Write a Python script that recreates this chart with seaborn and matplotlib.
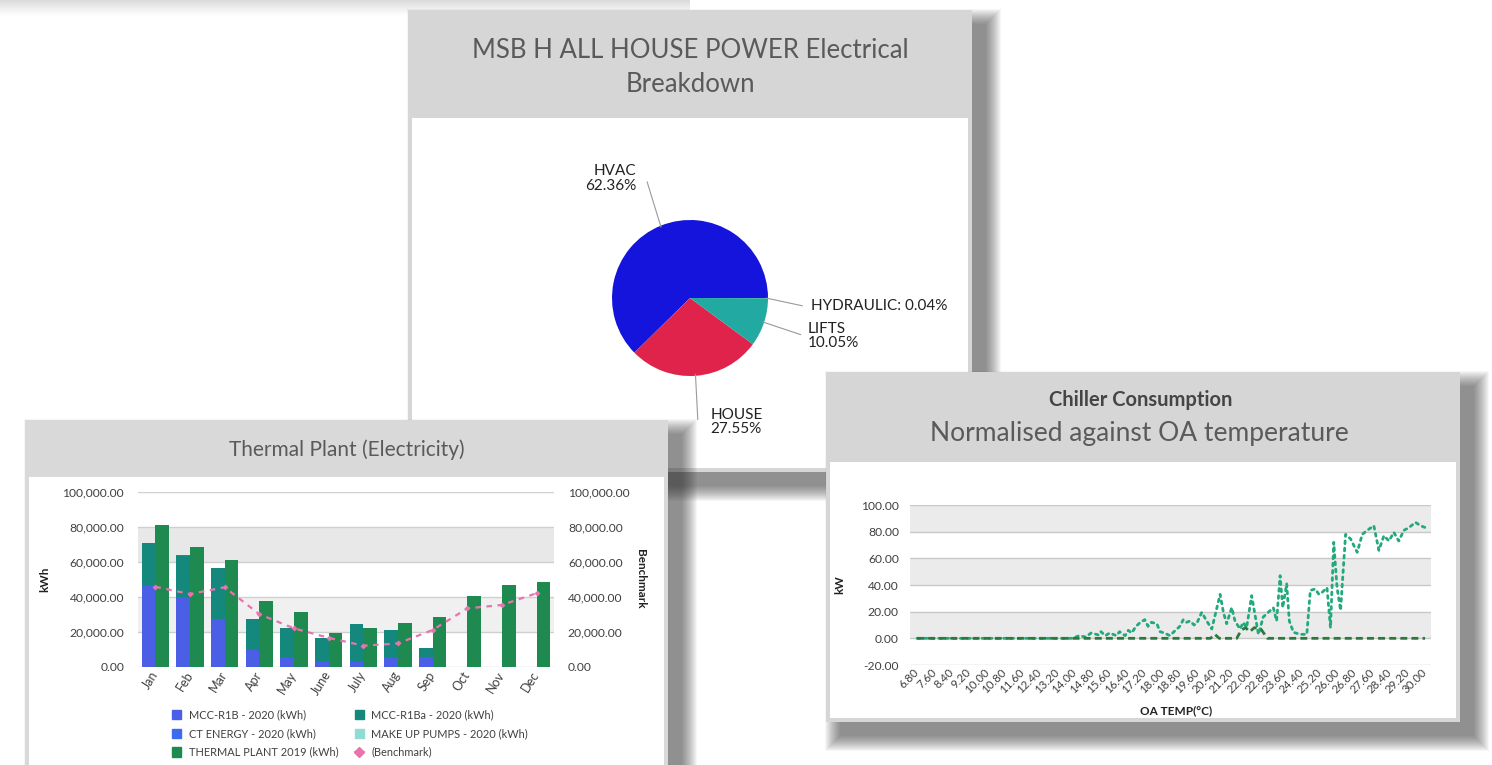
import numpy as np
import pandas as pd
import seaborn as sns
import matplotlib
matplotlib.use("Agg")
from matplotlib import pyplot as plt
from matplotlib.patches import Rectangle, Patch
from matplotlib.lines import Line2D

W, H = 1492, 765

# pie: MSB H ALL HOUSE POWER
pie_labels = ["HVAC", "HOUSE", "LIFTS", "HYDRAULIC"]
pie_values = [62.36, 27.55, 10.05, 0.04]
pie_colors = ["#1414DC", "#E0234A", "#22A9A1", "#4CC08A"]

# thermal plant (kWh)
months = ["Jan", "Feb", "Mar", "Apr", "May", "June", "July", "Aug", "Sep", "Oct", "Nov", "Dec"]
mcc_r1b = [46300, 40000, 27000, 9500, 5100, 2900, 2900, 5100, 5300, np.nan, np.nan, np.nan]
mcc_r1ba = [24300, 23000, 29200, 17500, 17000, 13700, 21500, 15900, 5600, np.nan, np.nan, np.nan]
ct_energy = [0, 800, 0, 0, 0, 0, 0, 0, 0, np.nan, np.nan, np.nan]
make_up_pumps = [300, 0, 0, 0, 0, 0, 0, 0, 0, np.nan, np.nan, np.nan]
thermal_2019 = [81000, 68200, 61000, 37700, 31400, 19000, 21900, 25100, 28600, 40400, 46500, 48600]
benchmark = [45700, 41500, 45400, 30000, 21900, 16500, 12000, 13300, 21000, 33300, 35300, 42000]

# chiller consumption vs OA temp
teal_temp = [6.8, 13.9, 14.2, 14.5, 14.75, 15.1, 15.2, 15.4, 15.6, 15.9, 16.05, 16.3, 16.45, 16.6,
             16.8, 17.0, 17.2, 17.35, 17.5, 17.75, 17.9, 18.1, 18.35, 18.6, 18.8, 18.96, 19.1,
             19.27, 19.45, 19.57, 19.8, 20.03, 20.26, 20.48, 20.64, 20.79, 20.94, 21.17, 21.32,
             21.55, 21.7, 21.85, 22.08, 22.23, 22.39, 22.61, 22.84, 23.07, 23.22, 23.38, 23.5,
             23.68, 23.8, 23.99, 24.3, 24.6, 24.76, 24.99, 25.15, 25.3, 25.52, 25.68, 25.83,
             25.98, 26.14, 26.37, 26.6, 26.9, 27.13, 27.36, 27.66, 27.89, 28.12, 28.35, 28.57,
             28.8, 29.03, 29.26, 29.56, 29.79, 30.02]
teal_kw = [0, 0, 2, 1, 4, 2.5, 5, 2, 4, 2, 5, 2, 6, 4,
           9, 12, 14, 9, 12, 11, 5, 4, 2, 6, 9, 14, 12,
           13, 10, 11, 19.5, 13, 7, 22, 33, 19.5, 11, 23, 13,
           7, 12, 8, 32, 18, 3, 16, 19.5, 23, 13, 47, 23,
           41, 13, 4.5, 3, 3, 36, 37, 33, 34.5, 38, 8, 72,
           38, 21, 78, 74.5, 64.5, 78, 81, 84.5, 66, 77, 73, 79.5,
           73, 81, 83, 87, 84.5, 83]
base_temp = [6.8, 20.2, 20.4, 20.6, 21.4, 21.6, 21.8, 22.0, 22.2, 22.5, 22.8, 30.0]
base_kw = [0, 0, 3, 0, 0, 6, 8, 5, 8, 7, 0, 0]
temp_ticks = ["6.80", "7.60", "8.40", "9.20", "10.00", "10.80", "11.60", "12.40", "13.20", "14.00",
              "14.80", "15.60", "16.40", "17.20", "18.00", "18.80", "19.60", "20.40", "21.20", "22.00",
              "22.80", "23.60", "24.40", "25.20", "26.00", "26.80", "27.60", "28.40", "29.20", "30.00"]

sns.set_theme(style="white")
plt.rcParams["font.family"] = ["Lato", "DejaVu Sans"]

fig = plt.figure(figsize=(W / 100, H / 100), dpi=100)


def px_axes(x0, y0, x1, y1):
    return fig.add_axes([x0 / W, 1 - y1 / H, (x1 - x0) / W, (y1 - y0) / H])


def canvas():
    c = fig.add_axes([0, 0, 1, 1])
    c.set_xlim(0, W)
    c.set_ylim(H, 0)
    c.axis("off")
    c.patch.set_alpha(0)
    return c


def panel(x0, y0, x1, y1, head, head_color="#D6D6D6"):
    c = canvas()
    for k in range(16):
        c.add_patch(Rectangle((x0 + 14 - k, y0 + 14 - k), x1 - x0 + 2 * k, y1 - y0 + 2 * k,
                              color="#303030", alpha=0.045, lw=0))
    c.add_patch(Rectangle((x0, y0), x1 - x0, y1 - y0, color=head_color, lw=0))
    c.add_patch(Rectangle((x0 + 4, head), x1 - x0 - 8, y1 - head - 4, color="white", lw=0))
    return c


# background strip top-left
bg = canvas()
grad = np.linspace(0.86, 1.0, 20).reshape(-1, 1)
bg.imshow(grad, cmap="gray", vmin=0, vmax=1, extent=(0, 690, 16, 0), aspect="auto")

# ---------------- pie panel ----------------
pc = panel(408, 10, 972, 472, 118)
pc.text(690, 67, "MSB H ALL HOUSE POWER Electrical\nBreakdown", ha="center", va="center",
        fontsize=18.5, color="#5A5A5A", linespacing=1.45)

pa = px_axes(540, 148, 840, 448)
wedges, _ = pa.pie(pie_values, colors=pie_colors, startangle=0, counterclock=True,
                   radius=1.0, wedgeprops=dict(linewidth=0))
lim = 150 / 78
pa.set_xlim(-lim, lim)
pa.set_ylim(-lim, lim)
pa.axis("off")

# label placement: (text x, text y, ha, line start x, line start y)
label_pos = {
    "HVAC": (-0.69, 1.53, "right", -0.55, 1.49),
    "HOUSE": (0.26, -1.59, "left", 0.10, -1.56),
    "LIFTS": (1.51, -0.49, "left", 1.42, -0.47),
    "HYDRAULIC": (1.55, -0.10, "left", 1.44, -0.10),
}
for w, lab, val in zip(wedges, pie_labels, pie_values):
    ang = np.deg2rad((w.theta1 + w.theta2) / 2)
    tx_, ty_, ha, lx, ly = label_pos[lab]
    txt = f"{lab}: {val:.2f}%" if lab == "HYDRAULIC" else f"{lab}\n{val:.2f}%"
    pa.plot([np.cos(ang) * 0.98, lx], [np.sin(ang) * 0.98, ly], color="#9A9A9A", lw=0.8)
    pa.text(tx_, ty_, txt, ha=ha, va="center", multialignment=ha, fontsize=11,
            color="#222222", linespacing=1.05)

# ---------------- thermal panel ----------------
tc = panel(25, 420, 668, 790, 477, "#D9D9D9")
tc.text(347, 450, "Thermal Plant (Electricity)", ha="center", va="center", fontsize=15, color="#5A5A5A")

tx = px_axes(138, 491.7, 554, 666.7)
tx.axhspan(20000, 40000, color="#F0F0F0", lw=0, zorder=0)
tx.axhspan(60000, 80000, color="#E8E8E8", lw=0, zorder=0)
yt = np.arange(0, 100001, 20000)
for v in yt:
    tx.axhline(v, color="#CFCFCF", lw=1, zorder=0.5)

c_r1b, c_r1ba, c_ct, c_mup, c_2019, c_bench = "#4A5FE6", "#15887E", "#3D6BF0", "#8FDCD3", "#1F8A50", "#E874AE"
cum1 = np.array(mcc_r1b)
cum2 = cum1 + np.array(mcc_r1ba)
cum3 = cum2 + np.array(ct_energy)
cum4 = cum3 + np.array(make_up_pumps)
hue_order = ["2020", "2019"]
for vals, col in [(cum4, c_mup), (cum3, c_ct), (cum2, c_r1ba), (cum1, c_r1b)]:
    df = pd.DataFrame({"month": months, "kWh": vals, "year": "2020"}).dropna()
    sns.barplot(data=df, x="month", y="kWh", hue="year", order=months, hue_order=hue_order,
                palette={"2020": col, "2019": col}, width=0.78, gap=0, dodge=True,
                saturation=1, errorbar=None, legend=False, ax=tx, zorder=2,
                linewidth=0, edgecolor="none")
df19 = pd.DataFrame({"month": months, "kWh": thermal_2019, "year": "2019"})
sns.barplot(data=df19, x="month", y="kWh", hue="year", order=months, hue_order=hue_order,
            palette={"2020": c_2019, "2019": c_2019}, width=0.78, gap=0, dodge=True,
            saturation=1, errorbar=None, legend=False, ax=tx, zorder=2,
            linewidth=0, edgecolor="none")
tx.set_ylim(0, 100000)
tx.set_yticks(yt)
tx.set_yticklabels([f"{v:,.2f}" for v in yt])
tx.set_xlabel("")
tx.set_ylabel("kWh", fontsize=8.5, fontweight="bold", color="#222222")
tx.yaxis.set_label_coords(-0.21, 0.5)
tx.set_xticks(range(len(months)))
tx.set_xticklabels(months, rotation=58, ha="right", va="center", rotation_mode="anchor")
tx.tick_params(axis="y", length=0, labelsize=8.7, labelcolor="#404040", pad=10)
tx.tick_params(axis="x", length=0, labelsize=9, labelcolor="#404040", pad=4)
for s in tx.spines.values():
    s.set_visible(False)
tx.patch.set_alpha(0)

tw = tx.twinx()
sns.pointplot(x=months, y=benchmark, order=months, ax=tw, color=c_bench, markers="D",
              markersize=1.8, linewidth=1.6, linestyle=(0, (2.5, 2.5)), errorbar=None)
tw.set_ylim(0, 100000)
tw.set_yticks(yt)
tw.set_yticklabels([f"{v:,.2f}" for v in yt])
tw.tick_params(axis="y", length=0, labelsize=8.7, labelcolor="#404040", pad=10)
tw.set_ylabel("Benchmark", rotation=270, fontsize=8.5, fontweight="bold", color="#222222", va="center")
tw.yaxis.set_label_coords(1.207, 0.5)
for s in tw.spines.values():
    s.set_visible(False)
tx.set_xlim(-0.5, len(months) - 0.5)

handles = [Patch(color=c_r1b), Patch(color=c_ct), Patch(color=c_2019),
           Patch(color=c_r1ba), Patch(color=c_mup),
           Line2D([], [], color=c_bench, marker="D", markersize=5, lw=1.5)]
labels = ["MCC-R1B - 2020 (kWh)", "CT ENERGY - 2020 (kWh)", "THERMAL PLANT 2019 (kWh)",
          "MCC-R1Ba - 2020 (kWh)", "MAKE UP PUMPS - 2020 (kWh)", "(Benchmark)"]
tx.legend(handles, labels, ncol=2, loc="upper left", bbox_to_anchor=((168 - 138) / 416, (666.7 - 705) / 175),
          frameon=False, fontsize=7.9, handlelength=0.8, handleheight=0.9, handletextpad=0.7,
          columnspacing=1.5, labelspacing=0.7, borderaxespad=0, labelcolor="#404040")

# ---------------- chiller panel ----------------
cc = panel(826, 372, 1460, 722, 462, "#D6D6D6")
cc.text(1141, 400, "Chiller Consumption", ha="center", va="center", fontsize=14.5,
        fontweight="bold", color="#454545")
cc.text(1139, 433, "Normalised against OA temperature", ha="center", va="center",
        fontsize=19, color="#5A5A5A")

cx = px_axes(910, 505, 1431, 665)
for lo in (0, 40, 80):
    cx.axhspan(lo, lo + 20, color="#EBEBEB", lw=0, zorder=0)
cyt = np.arange(-20, 101, 20)
for v in cyt:
    cx.axhline(v, color="#C8C8C8", lw=1, zorder=0.5)
sns.lineplot(x=teal_temp, y=teal_kw, ax=cx, color="#22A97C", lw=2.0, linestyle=(0, (1, 1.6)),
             dash_capstyle="round", sort=False, estimator=None, zorder=3)
sns.lineplot(x=base_temp, y=base_kw, ax=cx, color="#2B7A3C", lw=2.0, linestyle=(0, (2.5, 1.5)),
             sort=False, estimator=None, zorder=4)
cx.set_ylim(-20, 100)
cx.set_xlim(6.48, 30.27)
cx.set_yticks(cyt)
cx.set_yticklabels([f"{v:.2f}" for v in cyt])
cx.set_xticks([float(t) for t in temp_ticks])
cx.set_xticklabels(temp_ticks, rotation=45, ha="right", va="center", rotation_mode="anchor")
cx.tick_params(axis="y", length=0, labelsize=8.7, labelcolor="#404040", pad=8)
cx.tick_params(axis="x", length=0, labelsize=8.3, labelcolor="#404040", pad=4)
cx.set_ylabel("kW", fontsize=8.5, fontweight="bold", color="#222222")
cx.yaxis.set_label_coords(-0.125, 0.5)
cx.set_xlabel("OA TEMP(°C)", fontsize=8.5, fontweight="bold", color="#222222")
cx.xaxis.set_label_coords(0.51, -0.25)
for s in cx.spines.values():
    s.set_visible(False)
cx.patch.set_alpha(0)

fig.savefig("out.png", dpi=100)
